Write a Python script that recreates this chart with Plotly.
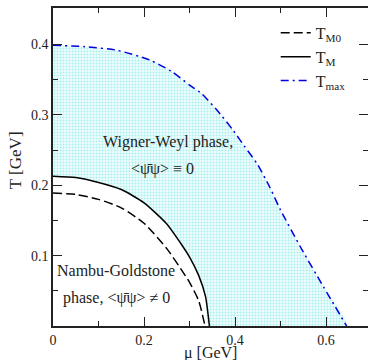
import plotly.graph_objects as go

# T_max (blue dash-dot)
mu_max = [0.0, 0.07, 0.14, 0.213, 0.26, 0.301, 0.327, 0.36, 0.396, 0.42, 0.448, 0.475, 0.499, 0.543, 0.594, 0.645]
T_max = [0.399, 0.397, 0.392, 0.378, 0.362, 0.342, 0.330, 0.307, 0.278, 0.256, 0.231, 0.199, 0.166, 0.113, 0.056, 0.0]

# T_M (solid)
mu_M = [0.0, 0.05, 0.1, 0.15, 0.2, 0.25, 0.28, 0.30, 0.32, 0.335, 0.3436]
T_M = [0.213, 0.211, 0.204, 0.194, 0.175, 0.145, 0.118, 0.098, 0.072, 0.042, 0.0]

# T_M0 (dashed)
mu_M0 = [0.0, 0.05, 0.1, 0.15, 0.2, 0.25, 0.28, 0.30, 0.32, 0.334]
T_M0 = [0.189, 0.187, 0.180, 0.168, 0.146, 0.110, 0.082, 0.062, 0.036, 0.0]

FONT = "Liberation Serif, Times New Roman, Times, DejaVu Serif, serif"
INK = "#222"

fig = go.Figure()

# shaded Wigner-Weyl region between T_M and T_max
fill_x = mu_max + mu_M[::-1]
fill_y = T_max + T_M[::-1]
fig.add_trace(go.Scatter(
    x=fill_x, y=fill_y, mode="lines", fill="toself", line_shape="spline",
    line=dict(width=0, color="rgba(0,0,0,0)", smoothing=0.6),
    fillcolor="rgba(0,0,0,0)",
    fillpattern=dict(shape=".", fgcolor="#66e0e0", bgcolor="#eefcfc", size=3, solidity=0.35),
    showlegend=False, hoverinfo="skip"))

fig.add_trace(go.Scatter(x=mu_M0, y=T_M0, mode="lines", name="T<sub>M0</sub>", line_shape="spline",
                         line=dict(color="black", width=1.5, dash="9px,4px", smoothing=0.6)))
fig.add_trace(go.Scatter(x=mu_M, y=T_M, mode="lines", name="T<sub>M</sub>", line_shape="spline",
                         line=dict(color="black", width=1.5, smoothing=0.6)))
fig.add_trace(go.Scatter(x=mu_max, y=T_max, mode="lines", name="T<sub>max</sub>", line_shape="spline",
                         line=dict(color="#0000e0", width=1.5, dash="8px,4px,2px,4px", smoothing=0.6)))

axis_common = dict(
    showgrid=False, zeroline=False, showline=True, linecolor=INK, linewidth=1.5,
    mirror="allticks", ticks="inside", ticklen=9, tickwidth=1.2, tickcolor=INK,
    tickfont=dict(family=FONT, size=14, color=INK), automargin=False,
)

fig.update_xaxes(range=[0, 0.692], tickvals=[0, 0.2, 0.4, 0.6], ticktext=["0", "0.2", "0.4", "0.6"],
                 minor=dict(tickvals=[0.1, 0.3, 0.5], ticklen=5, tickwidth=1.2, tickcolor=INK, ticks="inside"),
                 **axis_common)
fig.update_yaxes(range=[0, 0.452], tickvals=[0.1, 0.2, 0.3, 0.4], ticktext=["0.1", "0.2", "0.3", "0.4"],
                 minor=dict(tickvals=[0.05, 0.15, 0.25, 0.35], ticklen=5, tickwidth=1.2, tickcolor=INK, ticks="inside"),
                 **axis_common)

# axis titles
fig.add_annotation(xref="paper", yref="paper", x=0.5, y=-0.118, text="μ [GeV]",
                   showarrow=False, xanchor="center", yanchor="bottom",
                   font=dict(family=FONT, size=16, color=INK))
fig.add_annotation(xref="paper", yref="paper", x=-0.121, y=0.521, text="T [GeV]", textangle=-90,
                   showarrow=False, xanchor="center", yanchor="middle",
                   font=dict(family=FONT, size=17, color=INK))

fig.add_annotation(x=0.253, y=0.262, text="Wigner-Weyl phase,", showarrow=False,
                   font=dict(family=FONT, size=16, color=INK))
fig.add_annotation(x=0.241, y=0.223, text="<\u03c8\u0304\u03c8> \u2261 0", showarrow=False,
                   font=dict(family=FONT, size=16, color=INK))
fig.add_annotation(x=0.138, y=0.079, text="Nambu-Goldstone", showarrow=False,
                   font=dict(family=FONT, size=16, color=INK))
fig.add_annotation(x=0.139, y=0.040, text="phase, <\u03c8\u0304\u03c8> \u2260 0", showarrow=False,
                   font=dict(family=FONT, size=16, color=INK))

fig.update_layout(
    width=368, height=360,
    margin=dict(l=53, r=0, t=8, b=34),
    paper_bgcolor="white", plot_bgcolor="white",
    font=dict(family=FONT, size=14, color=INK),
    legend=dict(x=0.707, y=0.975, xanchor="left", yanchor="top", bgcolor="rgba(0,0,0,0)",
                font=dict(family=FONT, size=16, color=INK), tracegroupgap=0),
)

fig.write_html("out.html", config={"displayModeBar": False},
               post_script="document.body.style.margin='0';document.body.style.overflow='hidden';")
